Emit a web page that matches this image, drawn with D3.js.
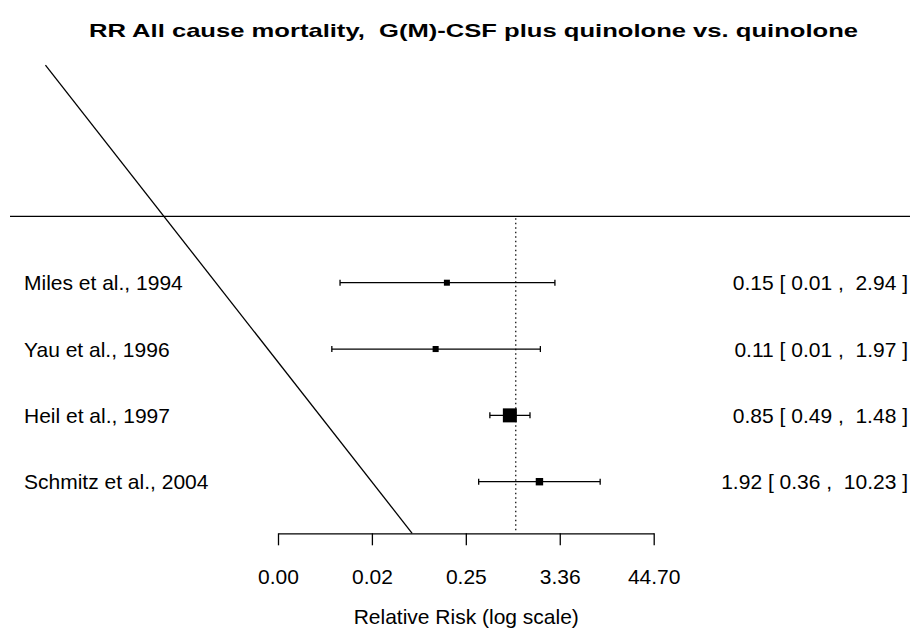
<!DOCTYPE html>
<html>
<head>
<meta charset="utf-8">
<script src="https://cdn.jsdelivr.net/npm/d3@7"></script>
<style>
  html, body { margin: 0; padding: 0; background: #fff; }
  svg { display: block; font-family: "Liberation Sans", Arial, sans-serif; }
</style>
</head>
<body>
<svg id="chart" width="910" height="628"></svg>
<script>
// ---- data ----
const studies = ["Miles et al., 1994", "Yau et al., 1996", "Heil et al., 1997", "Schmitz et al., 2004"];
const rr      = [0.15, 0.11, 0.85, 1.92];
const ciLower = [0.0079, 0.0063, 0.49, 0.36];
const ciUpper = [2.94, 1.97, 1.48, 10.23];
const rows    = [4, 3, 2, 1];
const tickValues = [0.00143, 0.0190, 0.2526, 3.36, 44.70];
const tickLabels = ["0.00", "0.02", "0.25", "3.36", "44.70"];
// diagonal reference line (in RR / row units)
const diagonalRR  = [2.36e-6, 0.0576];
const diagonalRow = [7.28, 0.222];

const title = "RR All cause mortality,  G(M)-CSF plus quinolone vs. quinolone";
const xTitle = "Relative Risk (log scale)";

// ---- layout ----
const W = 910, H = 628;
const svg = d3.select("#chart");

const x = d3.scaleLog().domain([tickValues[0], tickValues[tickValues.length - 1]]).range([278, 653.7]);
const y = d3.scaleLinear().domain([1, 4]).range([481.7, 282.7]);
const headerRow = 5;
const axisRow = 0.222;
const axisY = y(axisRow);

// square sizes from precision (1/se)
const invSe = rr.map((d, i) => 3.92 / (Math.log(ciUpper[i]) - Math.log(ciLower[i])));
const size = d3.scaleLinear().domain(d3.extent(invSe)).range([6, 14]);

const fmt = v => v.toFixed(2);

// title
svg.append("text")
  .attr("x", 473.5).attr("y", 37)
  .attr("text-anchor", "middle")
  .attr("font-size", 19).attr("font-weight", "bold")
  .attr("textLength", 769).attr("lengthAdjust", "spacingAndGlyphs")
  .attr("xml:space", "preserve")
  .style("white-space", "pre")
  .text(title);

// header line
svg.append("line")
  .attr("x1", 10).attr("x2", W)
  .attr("y1", y(headerRow)).attr("y2", y(headerRow))
  .attr("stroke", "#000").attr("stroke-width", 1.3);

// diagonal line
svg.append("line")
  .attr("x1", x(diagonalRR[0])).attr("y1", y(diagonalRow[0]))
  .attr("x2", x(diagonalRR[1])).attr("y2", y(diagonalRow[1]))
  .attr("stroke", "#000").attr("stroke-width", 1.3);

// reference line at RR = 1
svg.append("line")
  .attr("x1", x(1)).attr("x2", x(1))
  .attr("y1", y(headerRow) + 2).attr("y2", axisY)
  .attr("stroke", "#000").attr("stroke-width", 1.2)
  .attr("stroke-dasharray", "1.5,3");

// axis
const axis = d3.axisBottom(x)
  .tickValues(tickValues)
  .tickFormat((d, i) => tickLabels[i])
  .tickSize(12).tickPadding(24).tickSizeOuter(0);
const gAxis = svg.append("g").attr("transform", `translate(0,${axisY})`).call(axis);
gAxis.select(".domain").attr("stroke-width", 1.3);
gAxis.selectAll(".tick line").attr("stroke-width", 1.3);
gAxis.selectAll(".tick text").attr("font-size", 21).attr("fill", "#000")
  .attr("font-family", "Liberation Sans, Arial, sans-serif");

svg.append("text")
  .attr("x", x(1) - 49.5).attr("y", 624)
  .attr("text-anchor", "middle").attr("font-size", 21)
  .text(xTitle);

// study rows
const g = svg.append("g");
studies.forEach((s, i) => {
  const yy = y(rows[i]);
  g.append("line")
    .attr("x1", x(ciLower[i])).attr("x2", x(ciUpper[i]))
    .attr("y1", yy).attr("y2", yy)
    .attr("stroke", "#000").attr("stroke-width", 1.3);
  [ciLower[i], ciUpper[i]].forEach(v => {
    g.append("line")
      .attr("x1", x(v)).attr("x2", x(v))
      .attr("y1", yy - 3).attr("y2", yy + 3)
      .attr("stroke", "#000").attr("stroke-width", 1.3);
  });
  const sz = size(invSe[i]);
  g.append("rect")
    .attr("x", x(rr[i]) - sz / 2).attr("y", yy - sz / 2)
    .attr("width", sz).attr("height", sz)
    .attr("fill", "#000");
  g.append("text")
    .attr("x", 24).attr("y", yy).attr("dy", "0.36em")
    .attr("font-size", 21)
    .text(s);
  g.append("text")
    .attr("x", 908).attr("y", yy).attr("dy", "0.36em")
    .attr("text-anchor", "end")
    .attr("font-size", 21)
    .attr("xml:space", "preserve")
    .style("white-space", "pre")
    .text(`${fmt(rr[i])} [ ${fmt(ciLower[i])} ,  ${fmt(ciUpper[i])} ]`);
});
</script>
</body>
</html>
